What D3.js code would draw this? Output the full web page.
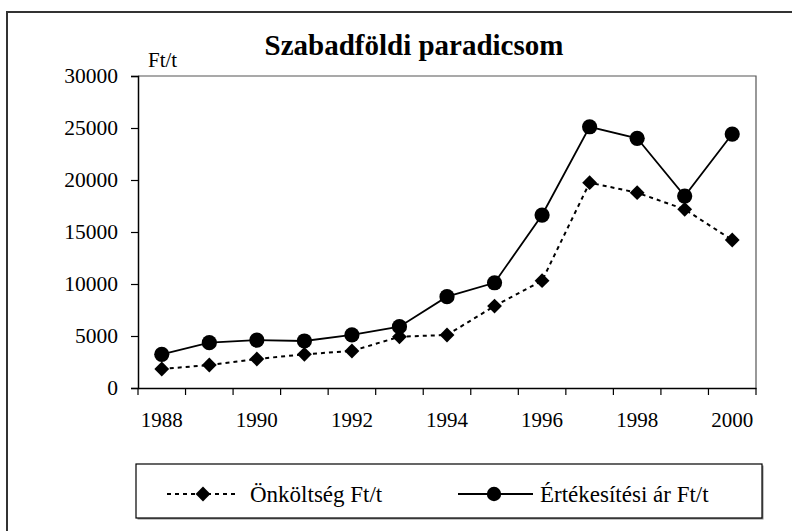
<!DOCTYPE html>
<html>
<head>
  <meta charset="utf-8">
  <script src="https://d3js.org/d3.v7.min.js"></script>
  <title>Szabadföldi paradicsom</title>
</head>
<style>
html,body {
  margin: 0;
  padding: 0;
  background: white;
}
svg {
  display: block;
  font-family: "Liberation Serif", "Times New Roman", serif;
}
</style>
<body>
<script type="text/javascript">
// adatok
var years = [1988, 1989, 1990, 1991, 1992, 1993, 1994, 1995, 1996, 1997, 1998, 1999, 2000];
var onkoltseg = [1830, 2210, 2790, 3240, 3560, 4930, 5100, 7880, 10320, 19740, 18780, 17180, 14230];
var ertekesitesi = [3240, 4360, 4610, 4520, 5100, 5900, 8780, 10120, 16630, 25120, 24010, 18460, 24420];
var yTicks = [0, 5000, 10000, 15000, 20000, 25000, 30000];
var xLabels = [1988, 1990, 1992, 1994, 1996, 1998, 2000];
var seriesNames = ["Önköltség Ft/t", "Értékesítési ár Ft/t"];

var width = 792, height = 531;
var plot = {left: 138, right: 756, top: 76, bottom: 388};
var serif = "'Liberation Serif', 'Times New Roman', serif";

var svg = d3.select("body").append("svg")
  .attr("width", width)
  .attr("height", height);

// kulso keret
svg.append("rect")
  .attr("x", 7).attr("y", 12)
  .attr("width", 820).attr("height", 560)
  .attr("fill", "white")
  .attr("stroke", "#333")
  .attr("stroke-width", 2);

var x = d3.scaleBand()
  .domain(years)
  .range([plot.left, plot.right])
  .padding(0);

var y = d3.scaleLinear()
  .domain([0, 30000])
  .range([plot.bottom, plot.top]);

// plot keret (felso es jobb)
svg.append("path")
  .attr("d", "M" + plot.left + "," + plot.top + "H" + plot.right + "V" + plot.bottom)
  .attr("fill", "none")
  .attr("stroke", "#555")
  .attr("stroke-width", 1.2);

// y tengely
var yAxis = svg.append("g")
  .attr("transform", "translate(" + plot.left + ",0)")
  .call(d3.axisLeft(y).tickValues(yTicks).tickSize(7).tickPadding(13).tickFormat(d3.format("d")));
yAxis.attr("font-family", serif);
yAxis.select(".domain").attr("stroke", "#000").attr("stroke-width", 1.5);
yAxis.selectAll(".tick line").attr("stroke", "#000").attr("stroke-width", 1.2);
yAxis.selectAll("text")
  .attr("font-size", "21.5px")
  .attr("fill", "#000");

// x tengely
var xAxis = svg.append("g")
  .attr("transform", "translate(0," + plot.bottom + ")")
  .call(d3.axisBottom(x).tickSize(0).tickPadding(24)
    .tickFormat(function(d) { return xLabels.indexOf(d) >= 0 ? d : ""; }));
xAxis.attr("font-family", serif);
xAxis.select(".domain").attr("stroke", "#000").attr("stroke-width", 1.5);
xAxis.selectAll("text")
  .attr("font-size", "21px")
  .attr("fill", "#000");

// x osztasok a kategoriak hataran
var edges = years.map(function(d) { return x(d); }).concat([x.range()[1]]);
svg.append("g").selectAll("line")
  .data(edges)
  .enter().append("line")
  .attr("x1", function(d) { return d; })
  .attr("x2", function(d) { return d; })
  .attr("y1", plot.bottom)
  .attr("y2", plot.bottom + 7)
  .attr("stroke", "#000")
  .attr("stroke-width", 1.2);

// Ft/t felirat
svg.append("text")
  .attr("x", 148).attr("y", 67)
  .attr("font-size", "21px")
  .text("Ft/t");

// cim
svg.append("text")
  .attr("x", 414).attr("y", 55)
  .attr("text-anchor", "middle")
  .attr("font-size", "29px")
  .attr("font-weight", "bold")
  .text("Szabadföldi paradicsom");

var cx = function(d, i) { return x(years[i]) + x.bandwidth() / 2; };

var line = d3.line()
  .x(function(d, i) { return cx(d, i); })
  .y(function(d) { return y(d); });

// onkoltseg - pontozott vonal, rombusz
svg.append("path")
  .datum(onkoltseg)
  .attr("d", line)
  .attr("fill", "none")
  .attr("stroke", "#000")
  .attr("stroke-width", 2)
  .attr("stroke-dasharray", "4,4");

// ertekesitesi ar - folytonos vonal, kor
svg.append("path")
  .datum(ertekesitesi)
  .attr("d", line)
  .attr("fill", "none")
  .attr("stroke", "#000")
  .attr("stroke-width", 1.8);

var diamond = d3.symbol().type(d3.symbolSquare).size(110);

svg.append("g").selectAll("path")
  .data(onkoltseg)
  .enter().append("path")
  .attr("d", diamond)
  .attr("transform", function(d, i) { return "translate(" + cx(d, i) + "," + y(d) + ") rotate(45)"; })
  .attr("fill", "#000");

svg.append("g").selectAll("circle")
  .data(ertekesitesi)
  .enter().append("circle")
  .attr("cx", cx)
  .attr("cy", function(d) { return y(d); })
  .attr("r", 7.6)
  .attr("fill", "#000");

// jelmagyarazat
var leg = {x: 136, y: 464, w: 626, h: 54};
svg.append("rect")
  .attr("x", leg.x + 1.5).attr("y", leg.y + 1.5)
  .attr("width", leg.w).attr("height", leg.h)
  .attr("fill", "#888");
svg.append("rect")
  .attr("x", leg.x).attr("y", leg.y)
  .attr("width", leg.w).attr("height", leg.h)
  .attr("fill", "white")
  .attr("stroke", "#000")
  .attr("stroke-width", 1.2);

var legY = 494;
svg.append("line")
  .attr("x1", 167).attr("x2", 237)
  .attr("y1", legY).attr("y2", legY)
  .attr("stroke", "#000").attr("stroke-width", 2)
  .attr("stroke-dasharray", "4,4");
svg.append("path")
  .attr("d", diamond)
  .attr("transform", "translate(203," + legY + ") rotate(45)")
  .attr("fill", "#000");
svg.append("text")
  .attr("x", 250).attr("y", 502)
  .attr("font-size", "23px")
  .text(seriesNames[0]);

svg.append("line")
  .attr("x1", 458).attr("x2", 533)
  .attr("y1", legY).attr("y2", legY)
  .attr("stroke", "#000").attr("stroke-width", 1.8);
svg.append("circle")
  .attr("cx", 494).attr("cy", legY)
  .attr("r", 7.2)
  .attr("fill", "#000");
svg.append("text")
  .attr("x", 540).attr("y", 502)
  .attr("font-size", "23px")
  .text(seriesNames[1]);
</script>
</body>
</html>
